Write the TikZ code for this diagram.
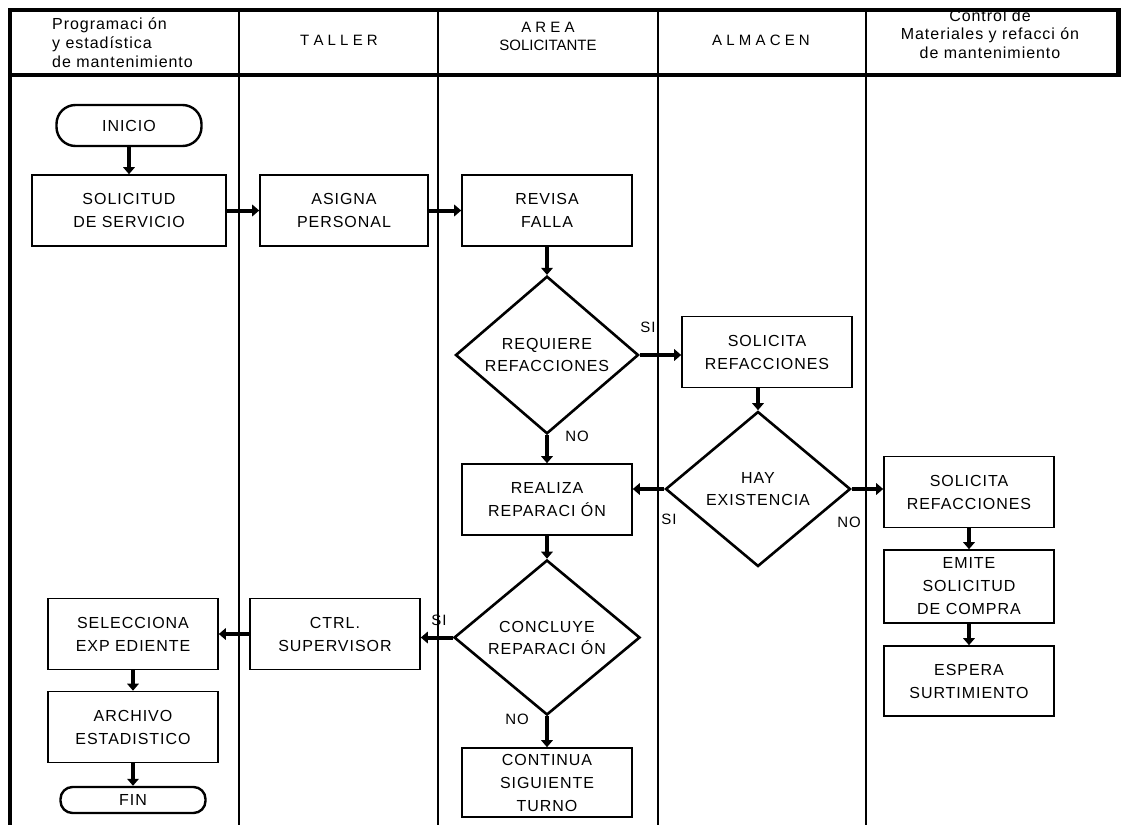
\documentclass[tikz,border=0pt]{standalone}
\usepackage{fontspec}
\setmainfont{Liberation Sans}
\newfontfamily\boxfont[LetterSpace=6]{Liberation Sans}
\usetikzlibrary{shapes.geometric,arrows.meta}

\begin{document}
\begin{tikzpicture}[x=1pt,y=-1pt,
  frameline/.style={line width=4.5pt},
  laneline/.style={line width=1.3pt},
  hdr/.style={font=\fontsize{15}{19}\selectfont, align=center, inner sep=0pt},
  widehdr/.style={font=\boxfont\fontsize{16}{19}\selectfont, inner sep=0pt},
  proc/.style={draw, line width=1.6pt, minimum width=170pt, minimum height=71pt,
    align=center, inner sep=0pt, font=\boxfont\fontsize{16}{23}\selectfont},
  dec/.style={diamond, draw, line width=2.6pt, minimum width=183pt, minimum height=154pt,
    align=center, inner sep=0pt, font=\boxfont\fontsize{16}{22}\selectfont},
  term/.style={draw, line width=2.4pt, minimum width=145pt, align=center, inner sep=0pt,
    font=\boxfont\fontsize{16}{20}\selectfont},
  arr/.style={line width=4pt, -{Triangle[length=7pt,width=11.5pt]}},
  lbl/.style={font=\boxfont\fontsize{15}{18}\selectfont, inner sep=0pt}
]
\useasboundingbox (0,0) rectangle (1121,825);
\fill[white] (0,0) rectangle (1121,825);

% swimlane frame
\draw[laneline] (239,10) -- (239,825);
\draw[laneline] (438,10) -- (438,825);
\draw[laneline] (658,10) -- (658,825);
\draw[laneline] (866,10) -- (866,825);
\draw[frameline] (8,10) -- (1121,10);
\draw[frameline] (10,8) -- (10,825);
\draw[frameline] (10,75) -- (1121,75);
\draw[frameline] (1118.5,8) -- (1118.5,77);

% lane headers
\node[widehdr, anchor=west, align=left] (h1) at (52,42.5) {Programaci ón\\y estadística\\de mantenimiento};
\node[hdr] (h2) at (339,40) {T A L L E R};
\node[hdr, font=\fontsize{15}{18}\selectfont] (h3) at (548,36) {A R E A\\SOLICITANTE};
\node[hdr] (h4) at (761,40) {A L M A C E N};
\node[widehdr, align=center, font=\boxfont\fontsize{16}{18.5}\selectfont] (h5) at (990,34) {Control de\\Materiales y refacci ón\\de mantenimiento};

% process steps
\node[term, minimum height=41pt, rounded corners=19pt] (ini) at (129,125.5) {INICIO};
\node[proc, minimum width=194pt] (sol) at (129,210.5) {SOLICITUD\\DE SERVICIO};
\node[proc, minimum width=168pt] (asi) at (344,210.5) {ASIGNA\\PERSONAL};
\node[proc] (rev) at (547,210.5) {REVISA\\FALLA};
\node[dec] (req) at (547,355) {REQUIERE\\REFACCIONES};
\node[proc] (sola) at (767,352) {SOLICITA\\REFACCIONES};
\node[dec, minimum width=185pt, minimum height=155pt] (hay) at (758,489) {HAY\\EXISTENCIA};
\node[proc] (real) at (547,499.5) {REALIZA\\REPARACI ÓN};
\node[proc] (solc) at (969,492) {SOLICITA\\REFACCIONES};
\node[proc, minimum height=73pt] (emi) at (969,586.5) {EMITE\\SOLICITUD\\DE COMPRA};
\node[proc, minimum height=70pt] (esp) at (969,681) {ESPERA\\SURTIMIENTO};
\node[dec, minimum width=186pt, minimum height=155pt] (con) at (547,637.5) {CONCLUYE\\REPARACI ÓN};
\node[proc] (ctrl) at (335,634) {CTRL.\\SUPERVISOR};
\node[proc] (sel) at (133,634) {SELECCIONA\\EXP EDIENTE};
\node[proc] (arc) at (133,727) {ARCHIVO\\ESTADISTICO};
\node[term, minimum height=26pt, rounded corners=12pt] (fin) at (133,800) {FIN};
\node[proc, minimum height=69pt] (cont) at (547,782.5) {CONTINUA\\SIGUIENTE\\TURNO};

% connectors
\draw[arr] (ini.south) -- (sol.north);
\draw[arr] (sol.east) -- (asi.west);
\draw[arr] (asi.east) -- (rev.west);
\draw[arr] (rev.south) -- (req.north);
\draw[arr] (req.east) -- (req.east -| sola.west);
\draw[arr] (req.south) -- (real.north);
\draw[arr] (sola.south -| hay.north) -- (hay.north);
\draw[arr] (hay.west) -- (hay.west -| real.east);
\draw[arr] (hay.east) -- (hay.east -| solc.west);
\draw[arr] (solc.south) -- (emi.north);
\draw[arr] (emi.south) -- (esp.north);
\draw[arr] (real.south) -- (con.north);
\draw[arr] (con.west) -- (con.west -| ctrl.east);
\draw[arr] (ctrl.west) -- (sel.east);
\draw[arr] (sel.south) -- (arc.north);
\draw[arr] (arc.south) -- (fin.north);
\draw[arr] (con.south) -- (cont.north);

% branch labels
\node[lbl] (l1) at (648,327) {SI};
\node[lbl] (l2) at (577,436) {NO};
\node[lbl] (l3) at (669,519) {SI};
\node[lbl] (l4) at (849,522) {NO};
\node[lbl] (l5) at (439,620) {SI};
\node[lbl] (l6) at (517,719) {NO};
\end{tikzpicture}
\end{document}
